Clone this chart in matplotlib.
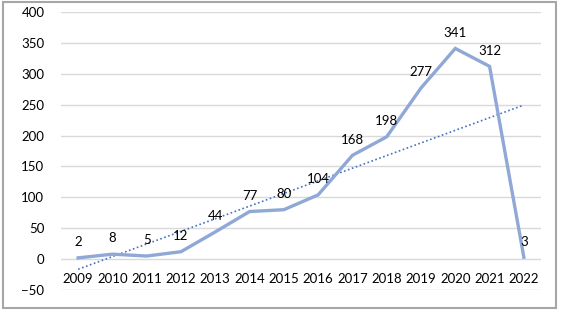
import numpy as np
import matplotlib.pyplot as plt
from matplotlib.patches import Rectangle

plt.rcParams['font.family'] = ['Lato', 'DejaVu Sans']

years = ['2009', '2010', '2011', '2012', '2013', '2014', '2015',
         '2016', '2017', '2018', '2019', '2020', '2021', '2022']
counts = [2, 8, 5, 12, 44, 77, 80, 104, 168, 198, 277, 341, 312, 3]

x = np.arange(len(years))
y = np.array(counts)

fig = plt.figure(figsize=(5.62, 3.12), dpi=100)
ax = fig.add_axes([61/562, 1-290/312, (541-61)/562, (290-12)/312])

# gridlines
for v in range(-50, 401, 50):
    ax.axhline(v, color='#d9d9d9', lw=1, zorder=0)

ax.plot(x, y, color='#8fa8d6', lw=2.4, solid_joinstyle='miter', zorder=3)

# linear trend line
a, b = np.polyfit(x, y, 1)
ax.plot(x, a*x+b, color='#4472c4', lw=1.2, ls=(0, (1, 1.5)), zorder=2)

for xi, yi in zip(x, y):
    ax.annotate(str(yi), (xi, yi), xytext=(0, 7), textcoords='offset points',
                ha='center', va='bottom', fontsize=9.5, color='black', zorder=4)

for xi, lab in zip(x, years):
    ax.text(xi, -33, lab, ha='center', va='center', fontsize=9.5)

ax.set_xlim(-0.5, 13.5)
ax.set_ylim(-50, 400)
ax.set_xticks([])
ax.set_yticks(range(-50, 401, 50))
ax.tick_params(axis='y', length=0, labelsize=9.5, pad=12)
for s in ax.spines.values():
    s.set_visible(False)

fig.patches.append(Rectangle((3/562, 4/312), 553/562, 306/312, transform=fig.transFigure,
                             fill=False, edgecolor='#a6a6a6', lw=1.5))

fig.savefig('out.png', dpi=100)
